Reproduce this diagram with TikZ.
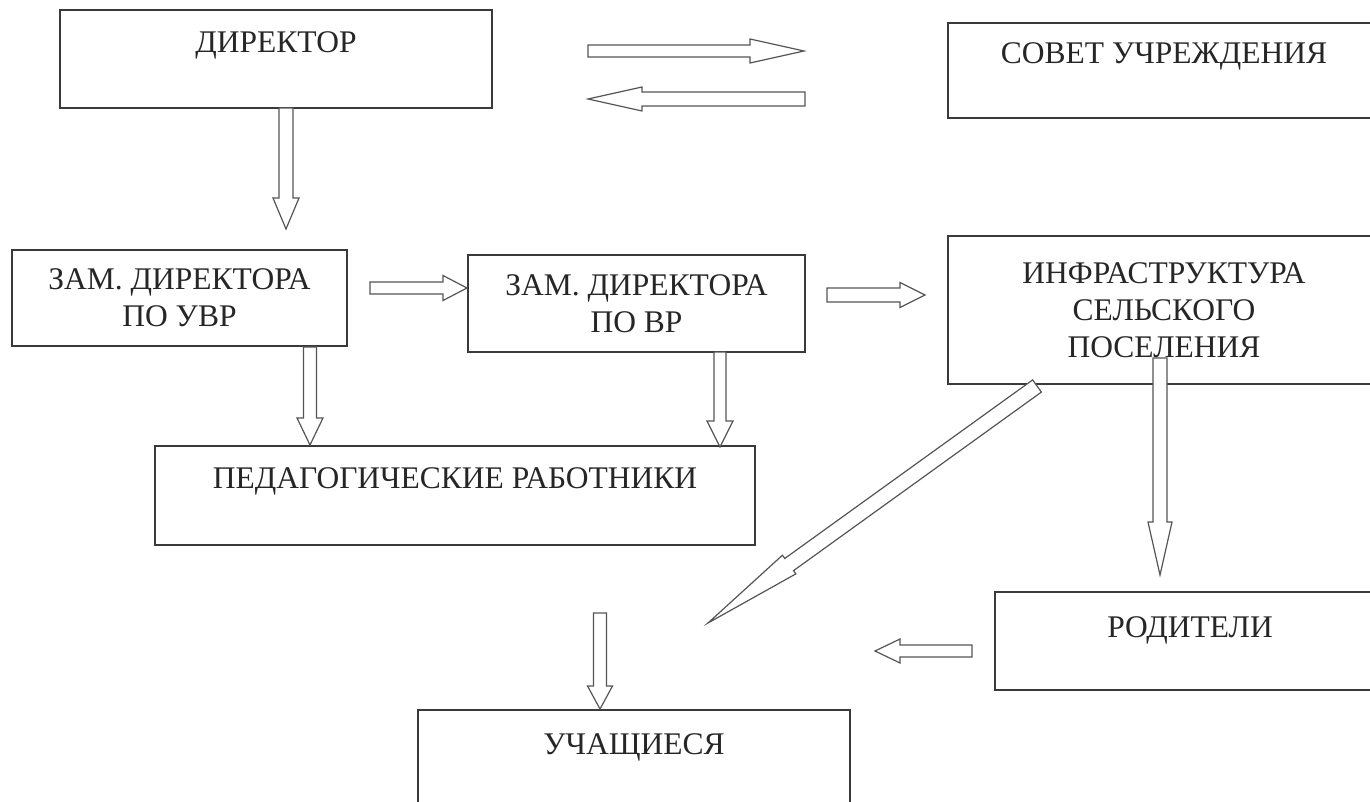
\documentclass[tikz,border=0pt]{standalone}
\usepackage{fontspec}
\setmainfont{Liberation Serif}
\usetikzlibrary{calc}
\definecolor{boxline}{HTML}{3A3A3A}
\definecolor{arrline}{HTML}{555555}
\tikzset{
  box/.style={draw=boxline, line width=1.4pt, inner sep=0pt, font=\fontsize{31.5}{37}\selectfont, text=black!85, align=center},
  barrow/.style={draw=arrline, line width=1.2pt, fill=white, line join=miter},
}
\newcommand\blockarrow[5]{%
  \coordinate (ba-h) at ($(#2)!#5!(#1)$);
  \draw[barrow] ($(#1)!#3!90:(#2)$) -- ($(ba-h)!#3!90:(#2)$) -- ($(ba-h)!#4!90:(#2)$) -- (#2)
    -- ($(ba-h)!#4!-90:(#2)$) -- ($(ba-h)!#3!-90:(#2)$) -- ($(#1)!#3!-90:(#2)$) -- cycle;
}
\begin{document}
\begin{tikzpicture}[x=1pt, y=-1pt]
\useasboundingbox (0,0) rectangle (1370,802);
\fill[white] (0,0) rectangle (1370,802);

% boxes
\node[box, minimum width=432pt, text height=43pt, text depth=55pt] (dir) at (276,59) {ДИРЕКТОР};
\node[box, minimum width=432pt, text height=41pt, text depth=54pt] (sovet) at (1164,70.5) {СОВЕТ УЧРЕЖДЕНИЯ};
\node[box, minimum width=335pt, minimum height=96pt] (uvr) at (179.5,298) {ЗАМ. ДИРЕКТОРА\\ПО УВР};
\node[box, minimum width=337pt, minimum height=97pt] (vr) at (636.5,303.5) {ЗАМ. ДИРЕКТОРА\\ПО ВР};
\node[box, minimum width=432pt, minimum height=148pt] (infra) at (1164,310) {ИНФРАСТРУКТУРА\\СЕЛЬСКОГО\\ПОСЕЛЕНИЯ};
\node[box, minimum width=600pt, text height=42pt, text depth=57pt] (ped) at (455,495.5) {ПЕДАГОГИЧЕСКИЕ РАБОТНИКИ};
\node[box, minimum width=390pt, text height=45pt, text depth=53pt] (rod) at (1190,641) {РОДИТЕЛИ};
\node[box, minimum width=432pt, text height=44pt, text depth=66pt] (uch) at (634,765) {УЧАЩИЕСЯ};

% connector end points
\coordinate (a1s) at (588,51);   \coordinate (a1e) at (804,51);
\coordinate (a2s) at (805,99);   \coordinate (a2e) at (588,99);
\coordinate (a3s) at (286,108);  \coordinate (a3e) at (286,229);
\coordinate (a4s) at (370,288);  \coordinate (a4e) at (467,288);
\coordinate (a5s) at (827,295);  \coordinate (a5e) at (925,295);
\coordinate (a6s) at (310,347);  \coordinate (a6e) at (310,445);
\coordinate (a7s) at (720,352);  \coordinate (a7e) at (720,447);
\coordinate (a8s) at (1160,358); \coordinate (a8e) at (1160,575);
\coordinate (a9s) at (1037,386); \coordinate (a9e) at (708,623);
\coordinate (a10s) at (972,651); \coordinate (a10e) at (875,651);
\coordinate (a11s) at (600,613); \coordinate (a11e) at (600,709);

\blockarrow{a1s}{a1e}{6pt}{12pt}{54pt}
\blockarrow{a2s}{a2e}{7pt}{12pt}{54pt}
\blockarrow{a3s}{a3e}{7pt}{13pt}{31pt}
\blockarrow{a4s}{a4e}{6pt}{12.5pt}{24pt}
\blockarrow{a5s}{a5e}{7pt}{12.5pt}{25pt}
\blockarrow{a6s}{a6e}{6.5pt}{13pt}{27pt}
\blockarrow{a7s}{a7e}{6pt}{13pt}{26pt}
\blockarrow{a8s}{a8e}{7pt}{12pt}{53pt}
\blockarrow{a9s}{a9e}{7.5pt}{11.5pt}{100pt}
\blockarrow{a10s}{a10e}{6pt}{12pt}{25pt}
\blockarrow{a11s}{a11e}{6.5pt}{12.5pt}{23pt}
\end{tikzpicture}
\end{document}
